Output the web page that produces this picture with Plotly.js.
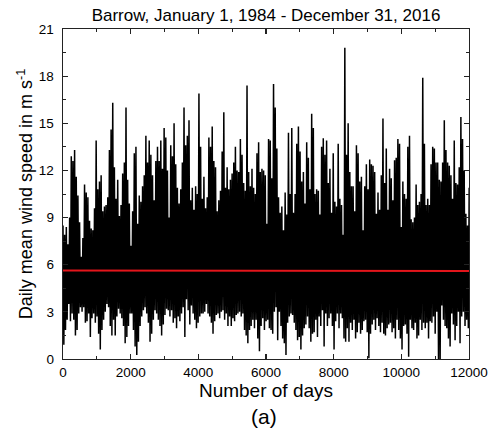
<!DOCTYPE html>
<html>
<head>
<meta charset="utf-8">
<script src="https://cdn.plot.ly/plotly-3.0.1.min.js"></script>
<style>html,body{margin:0;padding:0;background:#fff;}#chart{width:491px;height:434px;}</style>
</head>
<body>
<div id="chart"></div>
<script>
// Envelope of daily mean wind speed (m/s):
// per ~49-day bin, the highest and lowest daily value visible.
var binDays = 49;
var windHigh = [
8.5,7.9,8.4,7.3,9.0,12.9,12.6,13.3,11.6,10.4,8.7,6.5,7.7,11.1,10.6,10.3,8.8,8.3,8.2,9.6,
13.9,10.8,11.3,11.7,9.4,9.7,9.8,10.3,13.3,14.6,16.3,12.2,10.2,11.4,9.1,9.8,11.8,12.5,16.0,11.4,
9.9,7.2,9.4,13.1,13.5,8.6,10.4,10.0,11.0,11.7,14.2,12.5,13.9,13.0,11.7,10.1,12.6,13.5,12.6,13.9,
12.1,14.7,14.1,
12.0,9.0,13.6,12.9,15.0,12.4,10.9,9.9,10.8,12.5,16.0,13.6,14.2,15.2,10.1,10.9,9.5,11.0,10.5,16.9,
13.5,10.2,11.6,9.6,10.3,14.1,13.5,14.8,12.6,12.2,9.4,10.1,10.7,13.2,15.7,10.9,12.2,10.8,11.4,11.8,
12.5,13.5,12.0,11.9,14.0,13.0,11.2,10.7,17.4,11.9,11.0,12.1,10.9,10.5,13.1,13.8,11.9,12.1,12.0,11.7,
8.6,14.0,
13.9,11.5,17.5,16.0,13.4,10.3,9.3,9.7,8.2,10.6,9.2,14.4,10.5,14.7,9.3,10.5,13.7,14.8,13.2,11.3,
11.9,9.9,13.8,12.8,10.8,15.6,14.7,10.5,10.8,10.7,9.2,13.5,14.05,13.0,13.9,11.2,12.1,9.3,13.1,10.0,
9.7,13.7,10.2,9.8,7.9,19.8,13.0,15.0,11.9,11.0,11.0,9.4,13.6,13.1,11.3,11.6,8.2,11.0,12.4,10.8,
12.7,12.4,
12.3,11.9,9.25,10.6,9.5,11.7,15.3,11.2,13.4,9.5,12.1,11.5,10.1,12.65,12.8,14.0,13.7,8.4,11.3,10.5,
10.2,13.5,14.2,8.9,8.7,9.0,11.1,9.8,10.0,10.5,17.9,13.7,9.8,10.2,9.8,12.4,13.5,13.4,12.5,12.5,
11.4,11.3,12.5,15.2,13.3,12.5,12.3,11.7,10.2,13.9,11.2,11.1,12.2,15.4,14.0,12.0,9.25,8.5,10.9,11.8
];
var windLow = [
0.9,1.85,2.5,3.5,2.4,2.9,2.5,1.5,1.85,2.9,3.3,3.0,3.3,2.3,2.4,2.9,1.4,2.6,2.9,2.3,
2.7,1.6,0.6,1.85,2.5,3.0,3.5,3.3,2.1,1.5,2.5,1.5,2.7,3.2,2.9,2.6,2.1,1.0,1.4,2.1,
2.9,2.9,1.85,0.8,0.26,1.1,2.1,2.7,3.1,3.3,2.9,2.3,1.1,1.6,2.5,3.1,2.9,2.5,2.1,1.5,
2.2,2.8,3.2,3.1,2.7,3.1,2.3,2.6,1.95,2.7,2.4,2.9,3.3,1.4,3.8,3.1,2.2,3.4,2.9,2.5,
1.95,2.3,2.7,2.9,2.9,3.0,3.5,2.9,2.7,2.3,1.6,2.4,2.8,2.9,2.6,3.0,3.1,2.5,2.9,2.1,
2.7,2.1,2.6,2.4,2.8,2.9,3.0,2.7,2.9,1.85,1.5,1.0,1.85,2.1,2.5,1.95,2.5,1.3,0.5,2.1,
2.6,1.85,2.4,
2.5,1.95,1.85,1.6,3.0,3.3,1.2,3.0,2.1,1.3,1.0,0.26,2.3,2.7,2.9,2.8,2.3,1.85,1.2,1.4,
0.6,1.5,1.95,2.2,2.7,1.95,1.1,1.6,1.7,2.5,1.4,2.7,2.1,3.1,0.8,2.9,2.1,2.6,2.9,2.1,
0.6,2.4,2.9,1.95,2.9,2.6,1.3,1.1,1.95,1.1,2.3,1.85,2.5,1.3,1.7,2.3,1.6,1.85,2.4,2.5,
1.7,0.05,1.6,2.2,2.5,1.85,2.6,2.1,1.7,2.3,1.6,1.5,1.95,2.2,2.3,1.7,1.95,1.3,2.5,1.85,
1.3,0.6,2.1,2.2,1.6,0.15,2.5,1.95,1.85,2.3,1.3,1.5,2.5,1.85,2.3,1.95,2.3,1.3,2.4,2.3,
2.7,1.6,3.0,0.0,0.0,3.4,2.5,2.1,1.95,1.3,0.8,2.9,2.2,1.2,2.1,3.0,1.0,2.7,3.0,2.1,
2.5,1.95,2.2,1.7
];
// Linear trend (red line)
var trendDays = [0, 12054];
var trendValues = [5.63, 5.60];

var xTicks = [0, 2000, 4000, 6000, 8000, 10000, 12000];
var yTicks = [0, 3, 6, 9, 12, 15, 18, 21];

var n = Math.min(windHigh.length, windLow.length);
var xs = [], ys = [];
for (var i = 0; i < n; i++) {
  xs.push(i * binDays); ys.push(windHigh[i]);
  xs.push(i * binDays + binDays / 2); ys.push(windLow[i]);
}

var FONT = 'Liberation Sans, Arial, Helvetica, sans-serif';
var data = [
  {x: xs, y: ys, type: 'scatter', mode: 'lines', line: {color: '#000', width: 1.5}, hoverinfo: 'skip'},
  {x: trendDays, y: trendValues, type: 'scatter', mode: 'lines', line: {color: '#e3151b', width: 2}, hoverinfo: 'skip'}
];
var axisCommon = {
  showgrid: false, zeroline: false, showline: true, linecolor: '#222', linewidth: 1.4,
  mirror: 'allticks', ticks: 'inside', ticklen: 5, tickwidth: 1.2, tickcolor: '#222',
  tickfont: {family: FONT, size: 13.5, color: '#000'}
};
var layout = {
  width: 491, height: 434,
  margin: {l: 63, r: 22, t: 29, b: 75},
  paper_bgcolor: '#fff', plot_bgcolor: '#fff',
  showlegend: false,
  font: {family: FONT, color: '#000'},
  title: {text: 'Barrow, January 1, 1984 - December 31, 2016', font: {family: FONT, size: 17, color: '#000'},
          x: 0.5, xref: 'paper', y: 1 - 15/434, yref: 'container', yanchor: 'middle'},
  xaxis: Object.assign({}, axisCommon, {
    range: [0, 12000], tickvals: xTicks, ticktext: xTicks.map(String),
    minor: {dtick: 1000, tick0: 0, ticks: 'inside', ticklen: 3, tickwidth: 1, tickcolor: '#222'},
    title: {text: 'Number of days', font: {family: FONT, size: 19, color: '#000'}, standoff: 1}
  }),
  yaxis: Object.assign({}, axisCommon, {
    range: [0, 21], tickvals: yTicks, ticktext: yTicks.map(String), ticklabelstandoff: 5,
    minor: {dtick: 1.5, tick0: 0, ticks: 'inside', ticklen: 3, tickwidth: 1, tickcolor: '#222'},
    title: {text: 'Daily mean wind speed in m s<sup>-1</sup>', font: {family: FONT, size: 18, color: '#000'}, standoff: 1}
  }),
  annotations: [{text: '(a)', xref: 'paper', yref: 'paper', x: 0.495, y: -0.174, xanchor: 'center', yanchor: 'middle',
                 showarrow: false, font: {family: FONT, size: 21, color: '#000'}}]
};
Plotly.newPlot('chart', data, layout, {staticPlot: true, displayModeBar: false});
</script>
</body>
</html>
